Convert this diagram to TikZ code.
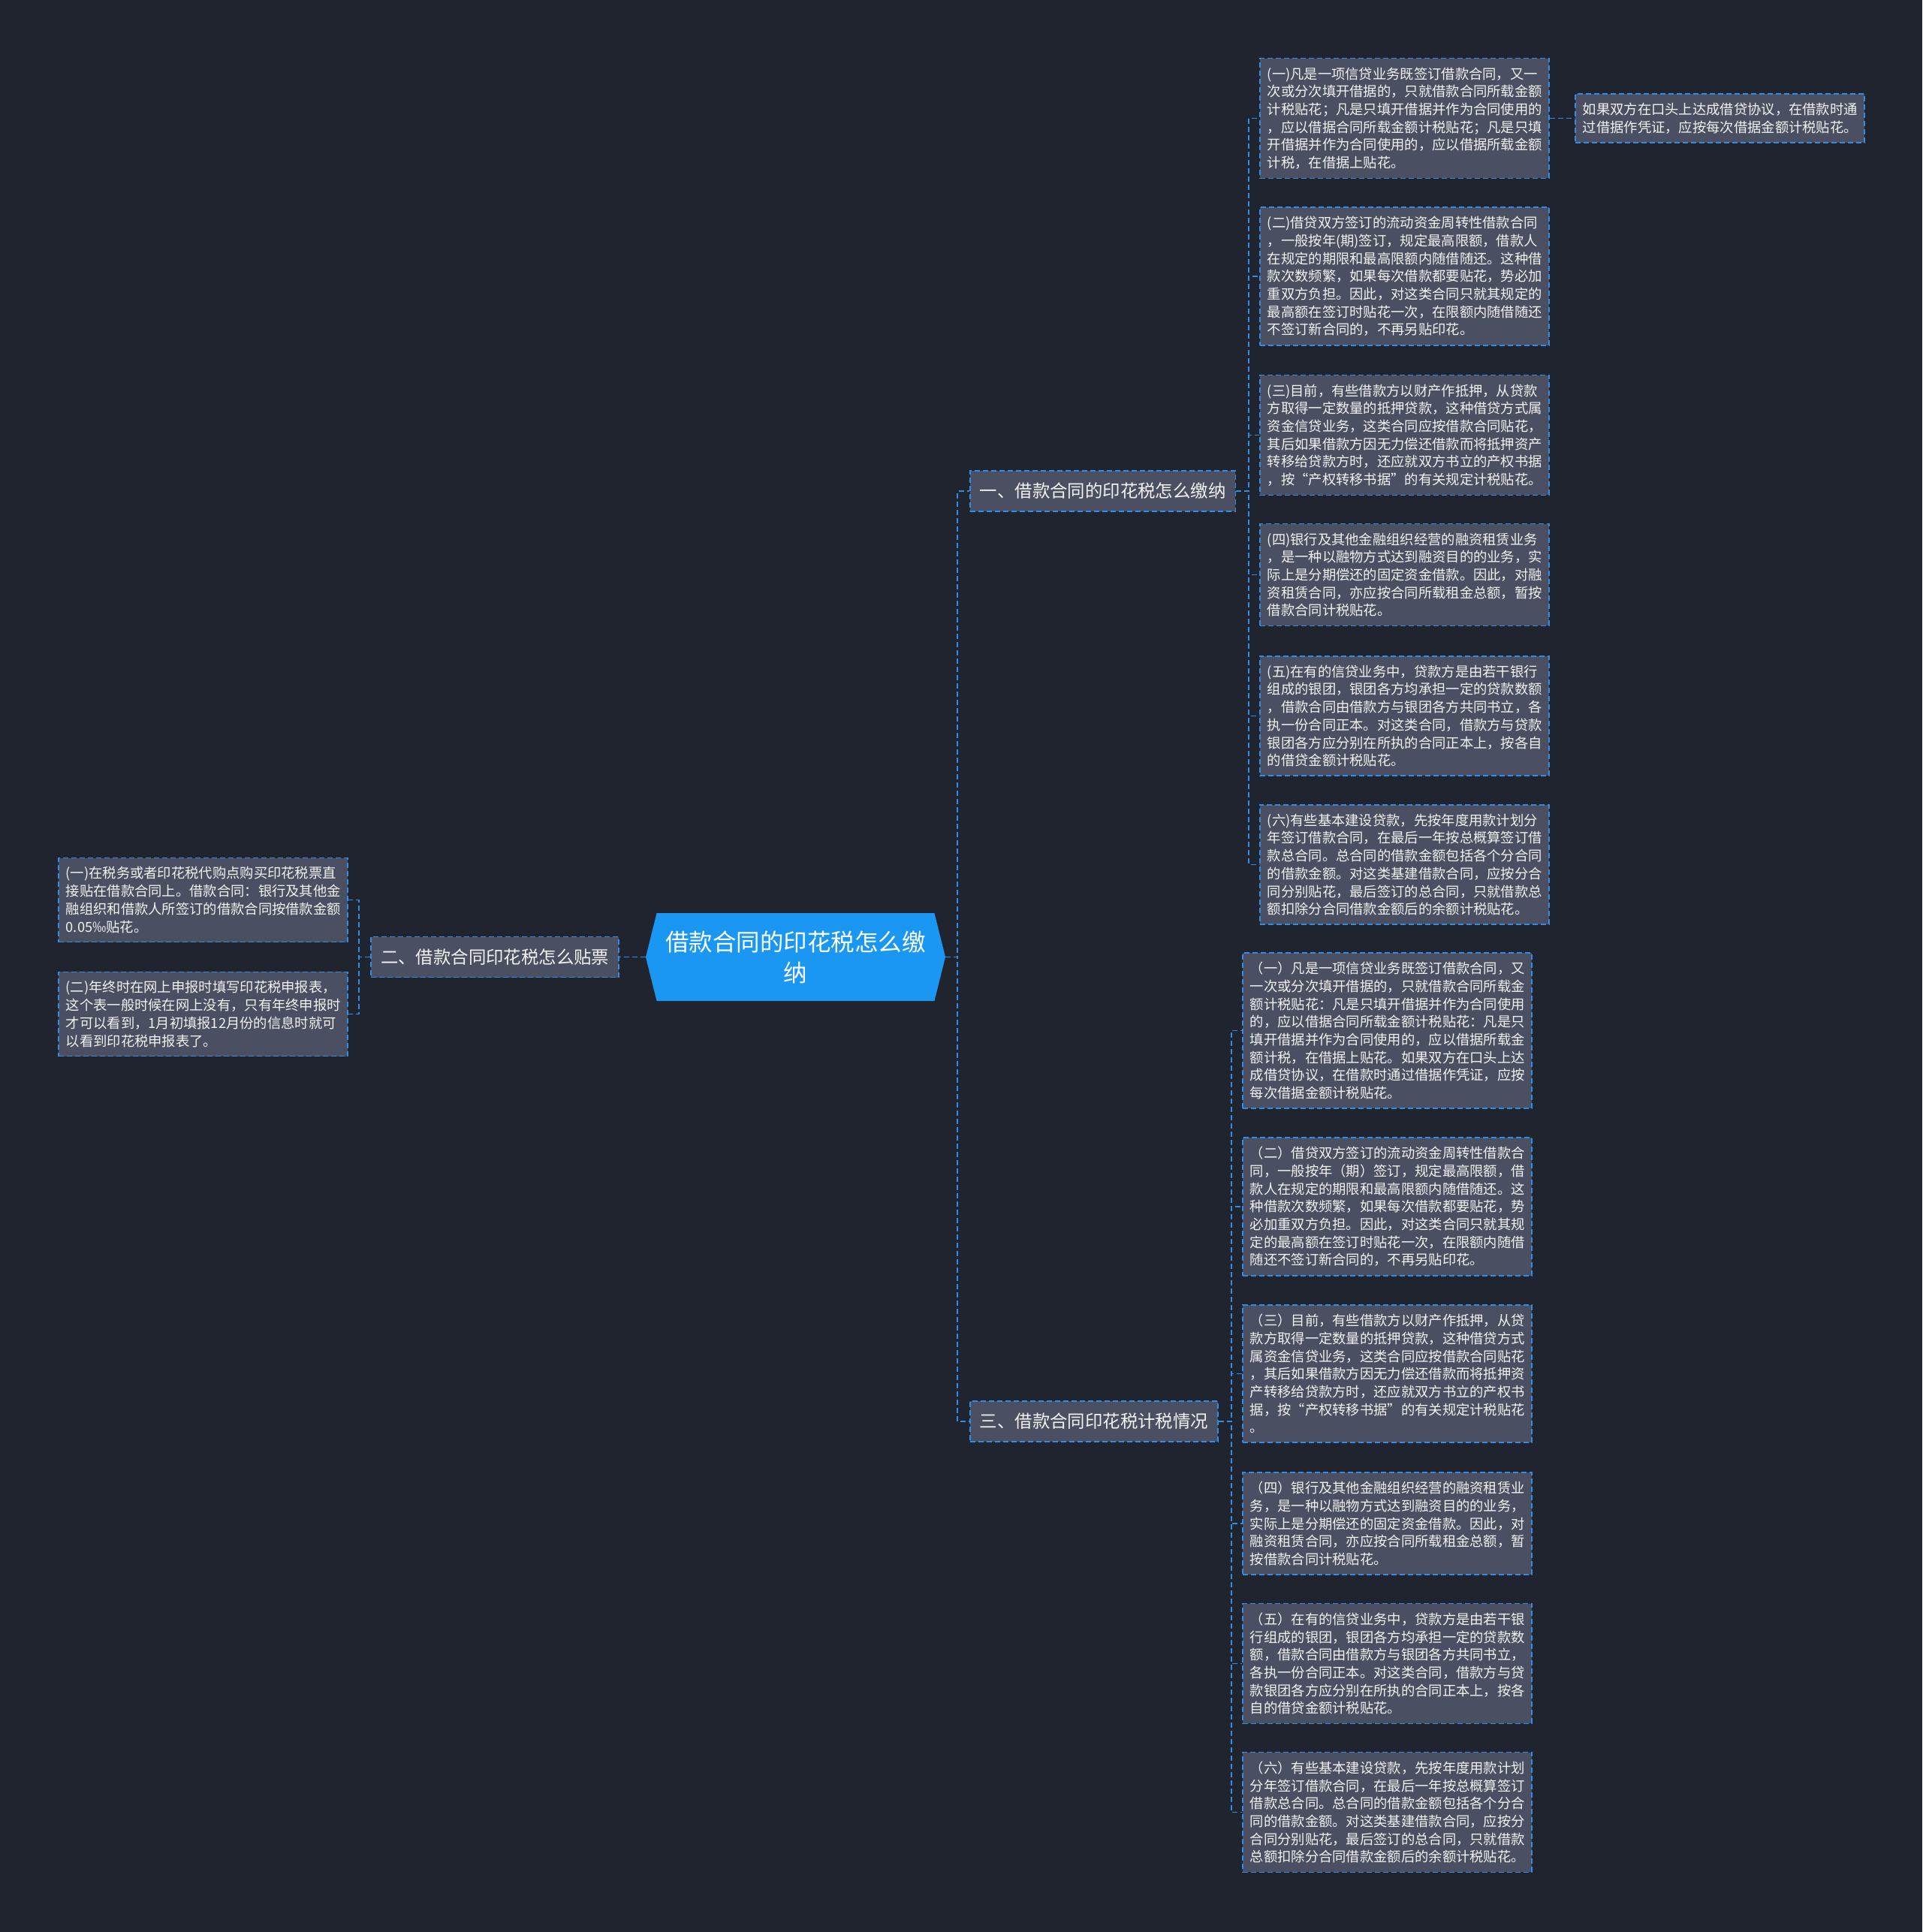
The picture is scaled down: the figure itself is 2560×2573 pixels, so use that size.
\documentclass[tikz,border=0pt]{standalone}
\usepackage{fontspec}
\newfontfamily\cjk{Noto Sans CJK SC}
\usetikzlibrary{shapes.symbols}
\definecolor{bgdark}{HTML}{20242F}
\definecolor{tile}{HTML}{4A5061}
\definecolor{wire}{HTML}{2E8DEB}
\definecolor{hubblue}{HTML}{1A97F2}
\definecolor{ink}{HTML}{F2F2F2}
\tikzset{dashy/.style={dash pattern=on 7pt off 4pt,line width=1.6pt}, leaf/.style={dashy,draw=wire,fill=tile,text=ink,font={\cjk\fontsize{18.3pt}{23.7pt}\selectfont},align=left,text width=365pt,inner xsep=10pt,inner ysep=12pt,anchor=west}, branch/.style={dashy,draw=wire,fill=tile,text=ink,font={\cjk\fontsize{23.4pt}{28pt}\selectfont},inner xsep=13pt,inner ysep=0pt,minimum height=54pt}, hub/.style={shape=signal,signal to=east and west,signal pointer angle=152,fill=hubblue,text=white,font={\cjk\fontsize{31.5pt}{41pt}\selectfont},align=center,minimum width=399pt,minimum height=117pt,inner sep=0pt}, link/.style={dashy,draw=wire}}

\begin{document}
\begin{tikzpicture}[x=1pt,y=-1pt]
\fill[bgdark] (0,0) rectangle (2560,2573);
\node[hub] (root) at (1059.5,1274.5) {借款合同的印花税怎么缴\\纳};
\node[branch,anchor=west] (b1) at (1291,654) {一、借款合同的印花税怎么缴纳};
\node[branch,anchor=east] (b2) at (825,1274.5) {二、借款合同印花税怎么贴票};
\node[branch,anchor=west] (b3) at (1291,1893) {三、借款合同印花税计税情况};

\node[leaf] (c1) at (1677,157.5) {(一)凡是一项信贷业务既签订借款合同，又一\\次或分次填开借据的，只就借款合同所载金额\\计税贴花；凡是只填开借据并作为合同使用的\\，应以借据合同所载金额计税贴花；凡是只填\\开借据并作为合同使用的，应以借据所载金额\\计税，在借据上贴花。};
\node[leaf] (c1x) at (2097,157.5) {如果双方在口头上达成借贷协议，在借款时通\\过借据作凭证，应按每次借据金额计税贴花。};
\node[leaf] (c2) at (1677,368) {(二)借贷双方签订的流动资金周转性借款合同\\，一般按年(期)签订，规定最高限额，借款人\\在规定的期限和最高限额内随借随还。这种借\\款次数频繁，如果每次借款都要贴花，势必加\\重双方负担。因此，对这类合同只就其规定的\\最高额在签订时贴花一次，在限额内随借随还\\不签订新合同的，不再另贴印花。};
\node[leaf] (c3) at (1677,579.5) {(三)目前，有些借款方以财产作抵押，从贷款\\方取得一定数量的抵押贷款，这种借贷方式属\\资金信贷业务，这类合同应按借款合同贴花，\\其后如果借款方因无力偿还借款而将抵押资产\\转移给贷款方时，还应就双方书立的产权书据\\，按“产权转移书据”的有关规定计税贴花。};
\node[leaf] (c4) at (1677,765.5) {(四)银行及其他金融组织经营的融资租赁业务\\，是一种以融物方式达到融资目的的业务，实\\际上是分期偿还的固定资金借款。因此，对融\\资租赁合同，亦应按合同所载租金总额，暂按\\借款合同计税贴花。};
\node[leaf] (c5) at (1677,953.5) {(五)在有的信贷业务中，贷款方是由若干银行\\组成的银团，银团各方均承担一定的贷款数额\\，借款合同由借款方与银团各方共同书立，各\\执一份合同正本。对这类合同，借款方与贷款\\银团各方应分别在所执的合同正本上，按各自\\的借贷金额计税贴花。};
\node[leaf] (c6) at (1677,1151.5) {(六)有些基本建设贷款，先按年度用款计划分\\年签订借款合同，在最后一年按总概算签订借\\款总合同。总合同的借款金额包括各个分合同\\的借款金额。对这类基建借款合同，应按分合\\同分别贴花，最后签订的总合同，只就借款总\\额扣除分合同借款金额后的余额计税贴花。};

\node[leaf] (l1) at (77,1198.5) {(一)在税务或者印花税代购点购买印花税票直\\接贴在借款合同上。借款合同：银行及其他金\\融组织和借款人所签订的借款合同按借款金额\\0.05‰贴花。};
\node[leaf] (l2) at (77,1350.5) {(二)年终时在网上申报时填写印花税申报表，\\这个表一般时候在网上没有，只有年终申报时\\才可以看到，1月初填报12月份的信息时就可\\以看到印花税申报表了。};

\node[leaf] (d1) at (1654,1372.5) {（一）凡是一项信贷业务既签订借款合同，又\\一次或分次填开借据的，只就借款合同所载金\\额计税贴花：凡是只填开借据并作为合同使用\\的，应以借据合同所载金额计税贴花：凡是只\\填开借据并作为合同使用的，应以借据所载金\\额计税，在借据上贴花。如果双方在口头上达\\成借贷协议，在借款时通过借据作凭证，应按\\每次借据金额计税贴花。};
\node[leaf] (d2) at (1654,1607) {（二）借贷双方签订的流动资金周转性借款合\\同，一般按年（期）签订，规定最高限额，借\\款人在规定的期限和最高限额内随借随还。这\\种借款次数频繁，如果每次借款都要贴花，势\\必加重双方负担。因此，对这类合同只就其规\\定的最高额在签订时贴花一次，在限额内随借\\随还不签订新合同的，不再另贴印花。};
\node[leaf] (d3) at (1654,1829.5) {（三）目前，有些借款方以财产作抵押，从贷\\款方取得一定数量的抵押贷款，这种借贷方式\\属资金信贷业务，这类合同应按借款合同贴花\\，其后如果借款方因无力偿还借款而将抵押资\\产转移给贷款方时，还应就双方书立的产权书\\据，按“产权转移书据”的有关规定计税贴花\\。};
\node[leaf] (d4) at (1654,2029) {（四）银行及其他金融组织经营的融资租赁业\\务，是一种以融物方式达到融资目的的业务，\\实际上是分期偿还的固定资金借款。因此，对\\融资租赁合同，亦应按合同所载租金总额，暂\\按借款合同计税贴花。};
\node[leaf] (d5) at (1654,2215.5) {（五）在有的信贷业务中，贷款方是由若干银\\行组成的银团，银团各方均承担一定的贷款数\\额，借款合同由借款方与银团各方共同书立，\\各执一份合同正本。对这类合同，借款方与贷\\款银团各方应分别在所执的合同正本上，按各\\自的借贷金额计税贴花。};
\node[leaf] (d6) at (1654,2413.5) {（六）有些基本建设贷款，先按年度用款计划\\分年签订借款合同，在最后一年按总概算签订\\借款总合同。总合同的借款金额包括各个分合\\同的借款金额。对这类基建借款合同，应按分\\合同分别贴花，最后签订的总合同，只就借款\\总额扣除分合同借款金额后的余额计税贴花。};

\draw[link] (root.east) -- ++(16,0) |- (b1.west);
\draw[link] (root.east) -- ++(16,0) |- (b3.west);
\draw[link] (root.west) -- (b2.east);
\foreach \n in {c1,c2,c3,c4,c5,c6} \draw[link] (b1.east) -- ++(17,0) |- (\n.west);
\foreach \n in {d1,d2,d3,d4,d5,d6} \draw[link] (b3.east) -- ++(17,0) |- (\n.west);
\foreach \n in {l1,l2} \draw[link] (b2.west) -- ++(-15,0) |- (\n.east);
\draw[link] (c1.east) -- (c1x.west);
\end{tikzpicture}
\end{document}
